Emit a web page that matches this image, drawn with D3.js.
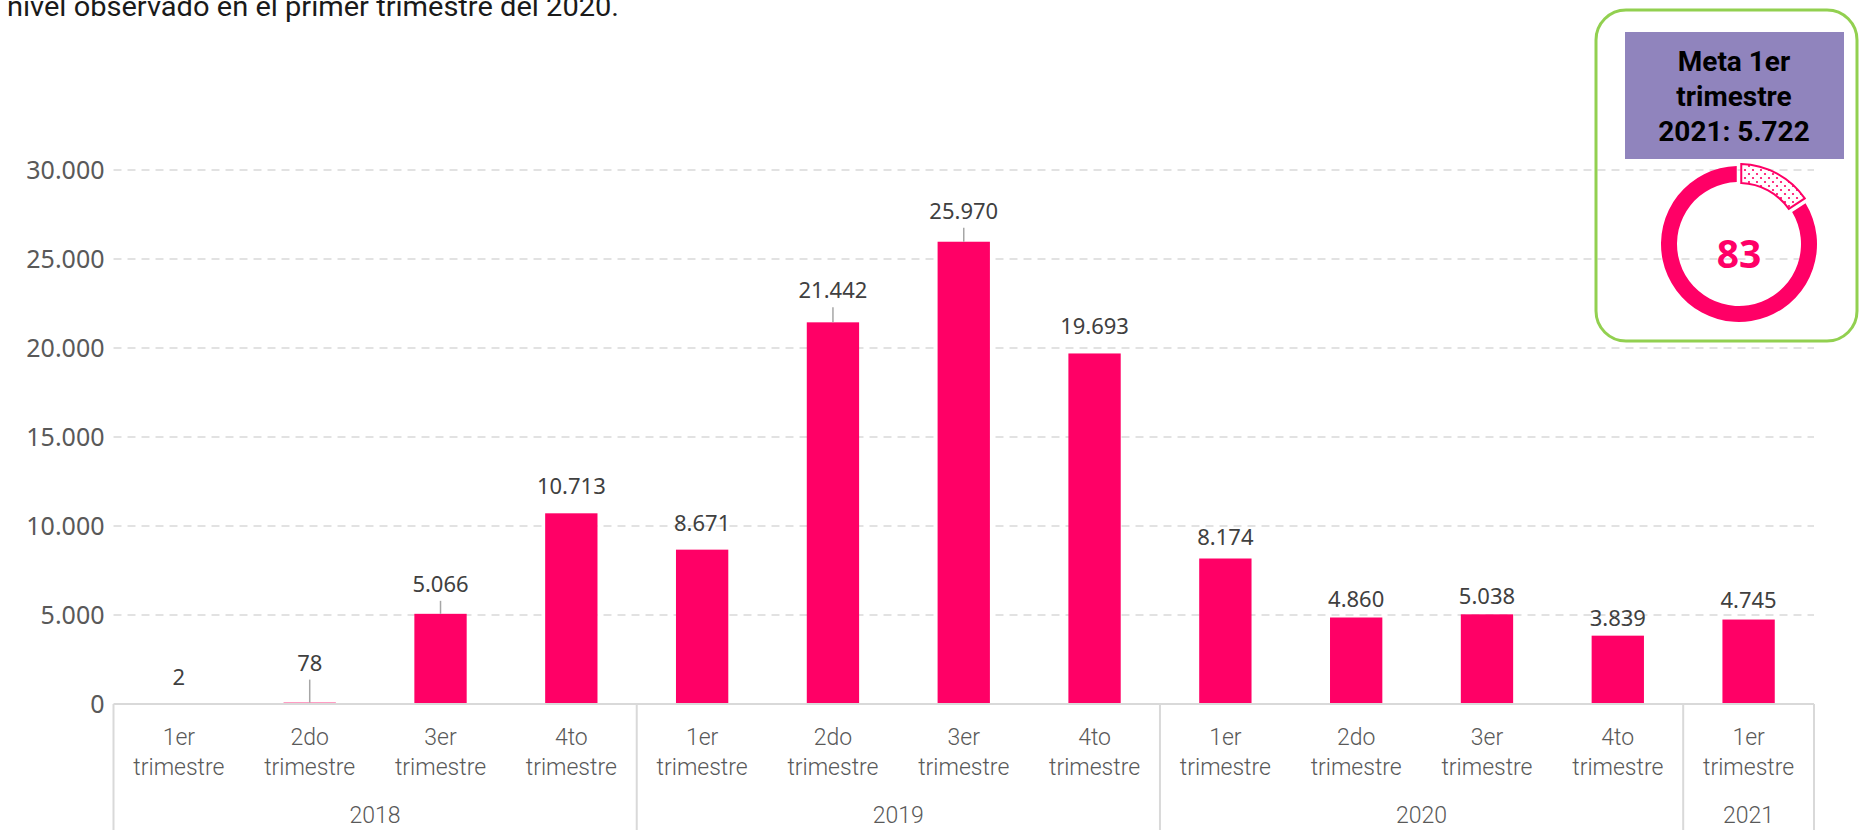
<!DOCTYPE html>
<html>
<head>
<meta charset="utf-8">
<script src="https://cdn.jsdelivr.net/npm/d3@7"></script>
<style>
  html, body { margin: 0; padding: 0; background: #ffffff; }
  svg { display: block; }
</style>
</head>
<body>
<svg id="chart" width="1860" height="830"></svg>
<script>
// ---------- data ----------
const quarters = ["1er", "2do", "3er", "4to", "1er", "2do", "3er", "4to", "1er", "2do", "3er", "4to", "1er"];
const quarterWord = "trimestre";
const years = ["2018", "2019", "2020", "2021"];
const yearSpan = [4, 4, 4, 1];
const values = [2, 78, 5066, 10713, 8671, 21442, 25970, 19693, 8174, 4860, 5038, 3839, 4745];
const yTicks = [0, 5000, 10000, 15000, 20000, 25000, 30000];
const titleText = "nivel observado en el primer trimestre del 2020.";
const goalLines = ["Meta 1er", "trimestre", "2021: 5.722"];
const goalPercent = 83;
const donutShares = [15, 83];   // [pending (dotted), achieved]

// label layout (pixel gap from bar top to label baseline) and leader-line flags
const labelGap = [19, 32, 22, 19, 19, 24, 23, 19, 14, 10, 10, 10, 12];
const leader = [false, true, true, false, false, true, true, false, false, false, false, false, false];

// ---------- setup ----------
const pink = "#FF0066";
const svg = d3.select("#chart");
const locale = d3.formatLocale({decimal: ",", thousands: ".", grouping: [3], currency: ["$", ""]});
const fmt = locale.format(",d");

const plot = {left: 113.5, right: 1814, top: 170, bottom: 704};
const idx = d3.range(values.length);
const x = d3.scaleBand().domain(idx).range([plot.left, plot.right]).paddingInner(0.6).paddingOuter(0.3);
const y = d3.scaleLinear().domain([0, 30000]).range([plot.bottom, plot.top]);

// title (clipped at top, as in the source)
svg.append("text")
  .attr("x", 7).attr("y", 16)
  .attr("font-family", "Roboto, 'Liberation Sans', sans-serif")
  .attr("font-size", 27)
  .attr("fill", "#1a1a1a")
  .attr("textLength", 612).attr("lengthAdjust", "spacingAndGlyphs")
  .text(titleText);

// gridlines
svg.append("g").selectAll("line").data(yTicks.filter(d => d > 0)).join("line")
  .attr("x1", plot.left).attr("x2", plot.right)
  .attr("y1", d => y(d)).attr("y2", d => y(d))
  .attr("stroke", "#d9d9d9").attr("stroke-width", 1.6)
  .attr("stroke-dasharray", "8,6");

// y axis labels
const yAxis = d3.axisLeft(y).tickValues(yTicks).tickFormat(fmt).tickSize(0).tickPadding(0);
const yg = svg.append("g").attr("transform", `translate(${plot.left - 9},0)`).call(yAxis);
yg.select(".domain").remove();
yg.selectAll("text")
  .attr("font-family", "'Noto Sans', 'Open Sans', sans-serif")
  .attr("font-size", 25)
  .attr("fill", "#595959");

// bars
svg.append("g").selectAll("rect").data(idx).join("rect")
  .attr("x", i => x(i))
  .attr("width", x.bandwidth())
  .attr("y", i => y(values[i]))
  .attr("height", i => y(0) - y(values[i]))
  .attr("fill", pink);

// x axis (multi-level)
const step = x.step();
const xg = svg.append("g");
xg.append("line")
  .attr("x1", plot.left).attr("x2", plot.right)
  .attr("y1", y(0)).attr("y2", y(0))
  .attr("stroke", "#d9d9d9").attr("stroke-width", 2);
const boundaries = [0];
yearSpan.forEach(s => boundaries.push(boundaries[boundaries.length - 1] + s));
xg.selectAll("line.sep").data(boundaries).join("line").attr("class", "sep")
  .attr("x1", b => plot.left + b * step).attr("x2", b => plot.left + b * step)
  .attr("y1", y(0)).attr("y2", 830)
  .attr("stroke", "#d9d9d9").attr("stroke-width", 2);

const catFont = "Roboto, 'Liberation Sans', sans-serif";
xg.selectAll("text.q").data(idx).join("text").attr("class", "q")
  .attr("x", i => x(i) + x.bandwidth() / 2)
  .attr("y", 745)
  .attr("text-anchor", "middle")
  .attr("font-family", catFont).attr("font-weight", 300)
  .attr("font-size", 23).attr("fill", "#595959")
  .text(i => quarters[i]);
xg.selectAll("text.t").data(idx).join("text").attr("class", "t")
  .attr("x", i => x(i) + x.bandwidth() / 2)
  .attr("y", 775)
  .attr("text-anchor", "middle")
  .attr("font-family", catFont).attr("font-weight", 300)
  .attr("font-size", 23).attr("fill", "#595959")
  .text(quarterWord);
xg.selectAll("text.yr").data(years).join("text").attr("class", "yr")
  .attr("x", (d, k) => plot.left + (boundaries[k] + yearSpan[k] / 2) * step)
  .attr("y", 823)
  .attr("text-anchor", "middle")
  .attr("font-family", catFont).attr("font-weight", 300)
  .attr("font-size", 23).attr("fill", "#595959")
  .text(d => d);

// data labels + leader lines
const lg = svg.append("g");
lg.selectAll("line").data(idx.filter(i => leader[i])).join("line")
  .attr("x1", i => x(i) + x.bandwidth() / 2).attr("x2", i => x(i) + x.bandwidth() / 2)
  .attr("y1", i => y(values[i]) - labelGap[i] + 9)
  .attr("y2", i => y(values[i]))
  .attr("stroke", "#a6a6a6").attr("stroke-width", 1.5);
lg.selectAll("text").data(idx).join("text")
  .attr("x", i => x(i) + x.bandwidth() / 2)
  .attr("y", i => y(values[i]) - labelGap[i])
  .attr("text-anchor", "middle")
  .attr("font-family", "'Noto Sans', 'Open Sans', sans-serif")
  .attr("font-size", 22).attr("fill", "#404040")
  .text(i => fmt(values[i]));

// ---------- goal box ----------
const defs = svg.append("defs");
const pat = defs.append("pattern").attr("id", "dots")
  .attr("patternUnits", "userSpaceOnUse").attr("width", 8).attr("height", 8);
pat.append("rect").attr("width", 8).attr("height", 8).attr("fill", "#ffffff");
pat.append("circle").attr("cx", 2).attr("cy", 2).attr("r", 1.1).attr("fill", pink);
pat.append("circle").attr("cx", 6).attr("cy", 6).attr("r", 1.1).attr("fill", pink);

const box = svg.append("g");
box.append("rect")
  .attr("x", 1596).attr("y", 10).attr("width", 261).attr("height", 331)
  .attr("rx", 30).attr("ry", 30)
  .attr("fill", "none").attr("stroke", "#92D050").attr("stroke-width", 3);
box.append("rect")
  .attr("x", 1625).attr("y", 32).attr("width", 219).attr("height", 127)
  .attr("fill", "#9084bd");
box.selectAll("text.goal").data(goalLines).join("text").attr("class", "goal")
  .attr("x", 1734).attr("y", (d, k) => 71 + k * 35)
  .attr("text-anchor", "middle")
  .attr("font-family", "Roboto, 'Liberation Sans', sans-serif")
  .attr("font-weight", 700).attr("font-size", 28).attr("fill", "#000000")
  .text(d => d);

const cx = 1739, cy = 244;
const pie = d3.pie().sort(null).value(d => d).padAngle(0.045);
const arcs = pie(donutShares);
const arcMain = d3.arc().innerRadius(62).outerRadius(78);
const arcDot = d3.arc().innerRadius(61).outerRadius(80);
const dg = box.append("g").attr("transform", `translate(${cx},${cy})`);
dg.append("path").attr("d", arcMain(arcs[1])).attr("fill", pink);
dg.append("path").attr("d", arcDot(arcs[0]))
  .attr("fill", "url(#dots)").attr("stroke", pink).attr("stroke-width", 2);
dg.append("text")
  .attr("x", 0).attr("y", 24)
  .attr("text-anchor", "middle")
  .attr("font-family", "'Noto Sans', Roboto, sans-serif")
  .attr("font-weight", 700).attr("font-size", 39).attr("fill", pink)
  .text(goalPercent);
</script>
</body>
</html>
